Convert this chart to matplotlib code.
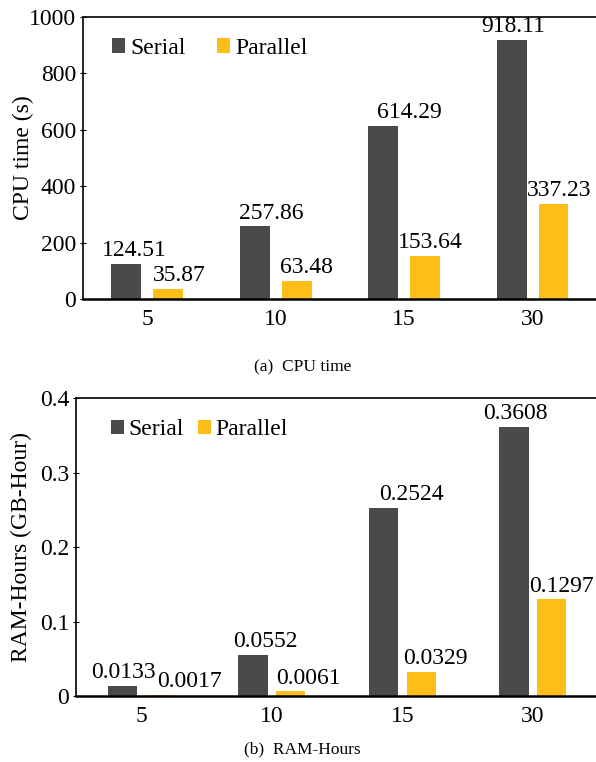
import numpy as np
import matplotlib
import matplotlib.pyplot as plt

matplotlib.use('Agg')

plt.rcParams['font.family'] = ['Liberation Serif', 'DejaVu Serif']

# number of nodes on the x axis
nodes = ['5', '10', '15', '30']

cpu_serial = [124.51, 257.86, 614.29, 918.11]
cpu_parallel = [35.87, 63.48, 153.64, 337.23]

ram_serial = [0.0133, 0.0552, 0.2524, 0.3608]
ram_parallel = [0.0017, 0.0061, 0.0329, 0.1297]

SERIAL_COLOR = '#4a4a4c'
PARALLEL_COLOR = '#fdbf17'
FS = 17


def draw_panel(ax, serial, parallel, fmt, ymax, ystep, ylabel, half_gap, width,
               nudge_s, nudge_p, col_space, ylabel_x, legend_x):
    x = np.arange(len(nodes))
    bs = ax.bar(x - half_gap, serial, width, color=SERIAL_COLOR, label='Serial')
    bp = ax.bar(x + half_gap, parallel, width, color=PARALLEL_COLOR, label='Parallel')

    # value labels above bars, nudged sideways so neighbours don't collide
    for bars, vals, nudge in ((bs, serial, nudge_s), (bp, parallel, nudge_p)):
        for b, v, dx in zip(bars, vals, nudge):
            ax.annotate(fmt.format(v), (b.get_x() + b.get_width() / 2, v),
                        xytext=(dx, 2), textcoords='offset points',
                        ha='center', va='bottom', fontsize=FS)

    ax.set_xlim(-0.5, 3.5)
    ax.set_ylim(0, ymax)
    ax.set_xticks(x)
    ax.set_xticklabels(nodes)
    ticks = np.arange(0, ymax + ystep / 2, ystep)
    ax.set_yticks(ticks)
    ax.set_yticklabels(['0'] + [('{:g}'.format(round(t, 3))) for t in ticks[1:]])
    ax.tick_params(axis='x', length=0, labelsize=FS, pad=7)
    ax.tick_params(axis='y', direction='inout', length=4, labelsize=FS, pad=3)
    ax.set_ylabel(ylabel, fontsize=FS)
    ax.yaxis.set_label_coords(ylabel_x, 0.5)

    ax.spines['bottom'].set_linewidth(1.8)
    ax.spines['left'].set_linewidth(1.2)
    ax.spines['top'].set_linewidth(1.2)
    ax.spines['right'].set_linewidth(0.6)
    ax.spines['right'].set_color('#999999')

    ax.legend(loc='upper left', bbox_to_anchor=(legend_x, 0.985), ncol=2, frameon=False,
              fontsize=FS, handlelength=0.55, handleheight=0.55, handletextpad=0.2,
              columnspacing=col_space, borderaxespad=0.3)


fig = plt.figure(figsize=(5.96, 7.62), dpi=100)

ax1 = fig.add_axes([0.1393, 0.6076, 0.862, 0.370])
draw_panel(ax1, cpu_serial, cpu_parallel, '{:.2f}', 1000, 200, 'CPU time (s)',
           0.163, 0.233, [6, 12, 19, 1], [8, 7, 4, 4], 1.35, -0.095, 0.025)
fig.text(0.508, 1 - 367 / 762, '(a)  CPU time', ha='center', va='center', fontsize=12.5)

ax2 = fig.add_axes([0.1275, 0.0866, 0.876, 0.391])
draw_panel(ax2, ram_serial, ram_parallel, '{:.4f}', 0.4, 0.1, 'RAM-Hours (GB-Hour)',
           0.145, 0.225, [1, 9, 20, 1], [21, 13, 10, 7], 0.6, -0.085, 0.035)
fig.text(0.508, 1 - 749 / 762, '(b)  RAM-Hours', ha='center', va='center', fontsize=12.5)

fig.savefig('out.png', dpi=100)
